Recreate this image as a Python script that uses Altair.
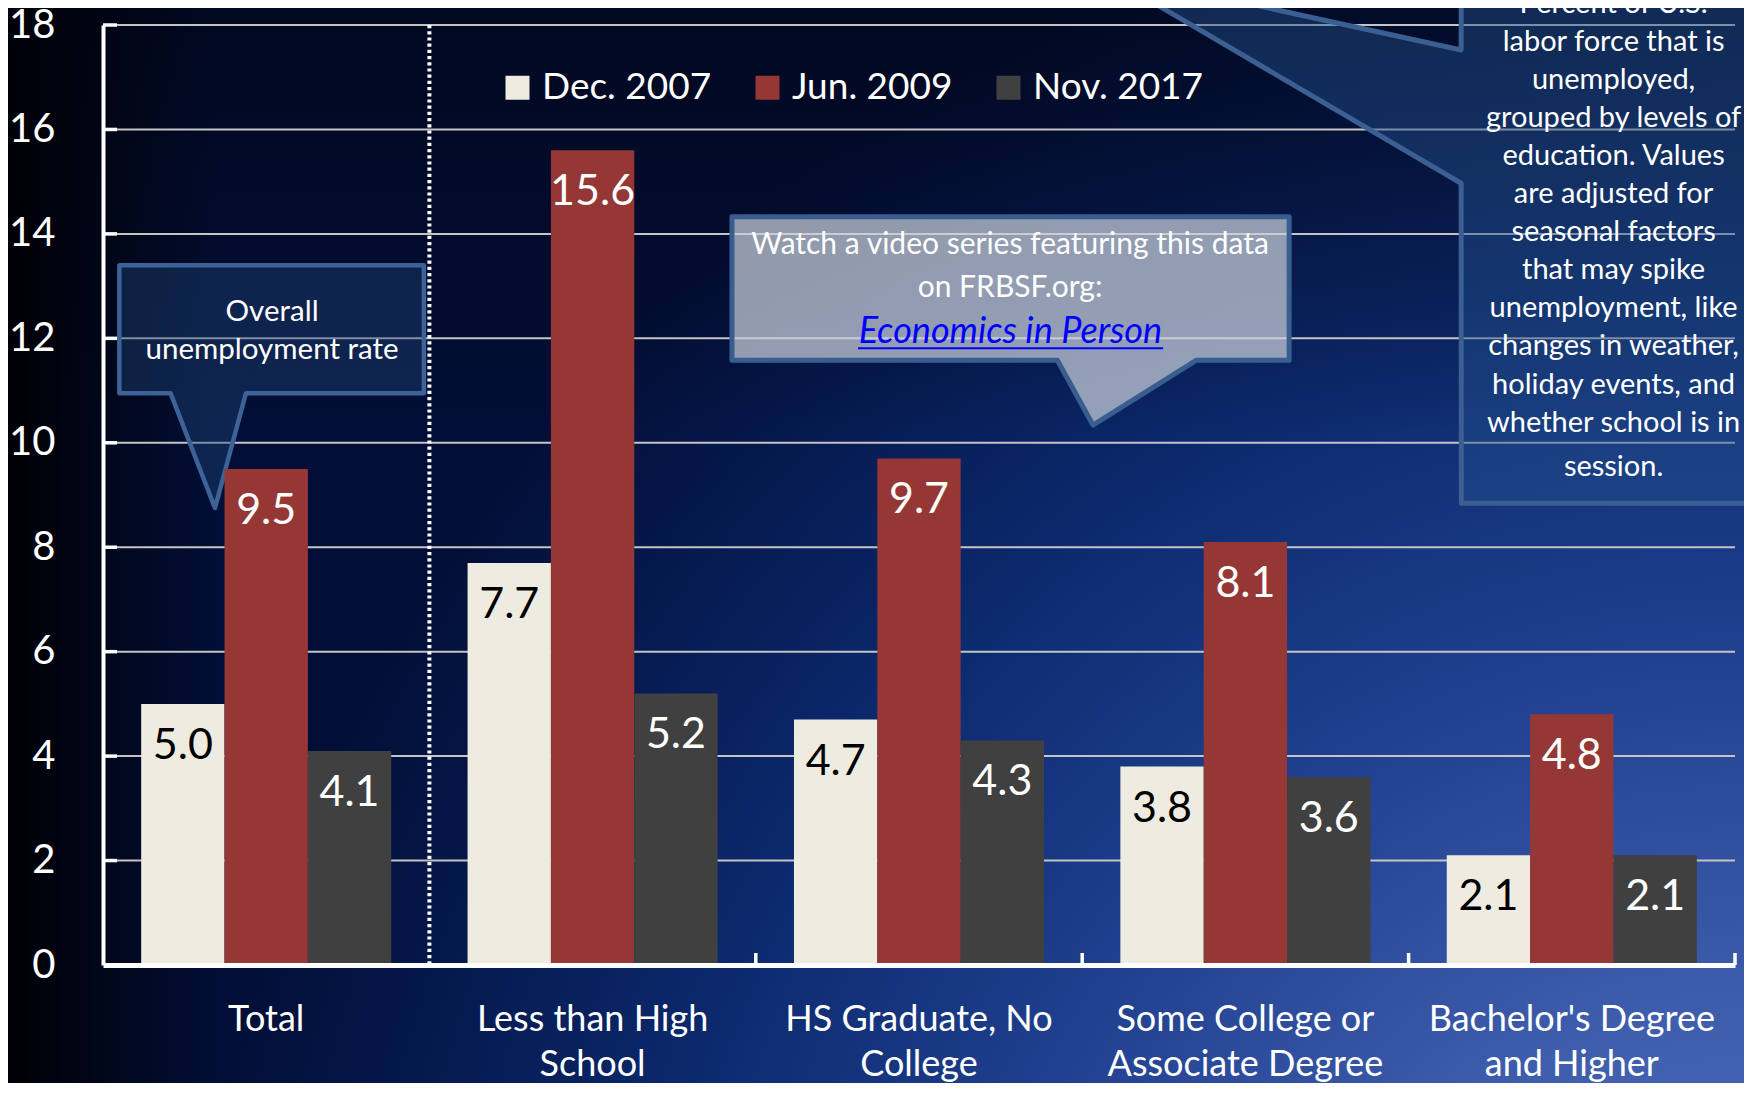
import altair as alt
import pandas as pd

# ---------------- data ----------------
categories = ["Total", "Less than High\nSchool", "HS Graduate, No\nCollege",
              "Some College or\nAssociate Degree", "Bachelor's Degree\nand Higher"]
series = ["Dec. 2007", "Jun. 2009", "Nov. 2017"]
dec_2007 = [5.0, 7.7, 4.7, 3.8, 2.1]
jun_2009 = [9.5, 15.6, 9.7, 8.1, 4.8]
nov_2017 = [4.1, 5.2, 4.3, 3.6, 2.1]
series_colors = ["#EEECE1", "#953735", "#404040"]
y_ticks = [0, 2, 4, 6, 8, 10, 12, 14, 16, 18]

overall_text = ["Overall", "unemployment rate"]
video_text = ["Watch a video series featuring this data", "on FRBSF.org:"]
link_text = "Economics in Person"
note_text = ["Percent of U.S.", "labor force that is", "unemployed,",
             "grouped by levels of", "education. Values", "are adjusted for",
             "seasonal factors", "that may spike", "unemployment, like",
             "changes in weather,", "holiday events, and", "whether school is in"]
note_last = "session."

# ---------------- layout ----------------
W, H = 1632, 940
PAD = {"left": 95, "top": 17, "right": 9, "bottom": 118}
FONT = "Lato"

rows = []
for s, vals in zip(series, [dec_2007, jun_2009, nov_2017]):
    for c, v in zip(categories, vals):
        rows.append({"cat": c, "series": s, "value": v})
df = pd.DataFrame(rows)

x_band = alt.Scale(domain=categories, paddingInner=0, paddingOuter=0)
xo_scale = alt.Scale(domain=series, paddingInner=0, paddingOuter=0.458)
y_scale = alt.Scale(domain=[0, 18], nice=False, zero=True)
xq_scale = alt.Scale(domain=[0, 5], nice=False, zero=False)

# one shared y axis definition, used by every layer that has a y field
y_axis = alt.Axis(title=None, orient="left", values=y_ticks, labelFont=FONT, labelFontSize=40,
                  labelColor="white", labelPadding=48, ticks=False,
                  domainColor="white", domainWidth=4, grid=False, zindex=1)

one = pd.DataFrame({"a": [0]})

# ---------------- background ----------------
bg_grad = {
    "gradient": "radial", "x1": 1, "y1": 1, "r1": 0, "x2": 1, "y2": 1, "r2": 0.9,
    "stops": [
        {"offset": 0.0, "color": "#5575c2"},
        {"offset": 0.25, "color": "#3f5fae"},
        {"offset": 0.5, "color": "#1f3f8e"},
        {"offset": 0.7, "color": "#0c2a6e"},
        {"offset": 0.85, "color": "#061b52"},
        {"offset": 1.0, "color": "#020e36"},
    ],
}
dark_grad = {
    "gradient": "linear", "x1": 0, "y1": 0, "x2": 1, "y2": 0,
    "stops": [
        {"offset": 0.0, "color": "rgba(0,0,4,1)"},
        {"offset": 0.05, "color": "rgba(0,0,4,0.6)"},
        {"offset": 0.12, "color": "rgba(0,0,4,0)"},
    ],
}
top_grad = {
    "gradient": "linear", "x1": 0, "y1": 0, "x2": 0, "y2": 1,
    "stops": [
        {"offset": 0.0, "color": "rgba(0,2,12,0.5)"},
        {"offset": 0.4, "color": "rgba(0,2,12,0)"},
    ],
}
bg_enc = dict(x=alt.value(-PAD["left"]), x2=alt.value(W + PAD["right"]),
              y=alt.value(-PAD["top"]), y2=alt.value(H + PAD["bottom"]))
bg = alt.Chart(one).mark_rect(fill=bg_grad).encode(**bg_enc)
dark = alt.Chart(one).mark_rect(fill=dark_grad).encode(**bg_enc)
topdark = alt.Chart(one).mark_rect(fill=top_grad).encode(**bg_enc)

grid = alt.Chart(pd.DataFrame({"v": y_ticks[1:]})).mark_rule(
    color="#c4c4c4", strokeWidth=2).encode(
    y=alt.Y("v:Q", scale=y_scale, axis=y_axis), x=alt.value(0), x2=alt.value(W))


def callout(pts, fill, fop, stroke, sw):
    d = pd.DataFrame(pts, columns=["x", "top", "bot"])
    return alt.Chart(d).mark_area(
        orient="vertical", interpolate="linear", fill=fill, fillOpacity=fop,
        stroke=stroke, strokeWidth=sw, strokeJoin="round").encode(
        x=alt.X("x:Q", scale=xq_scale, axis=None),
        y=alt.Y("top:Q", scale=y_scale, axis=y_axis),
        y2="bot:Q")


call_overall = callout([(0.05, 13.40, 10.95), (0.207, 13.40, 10.95), (0.343, 13.40, 8.75),
                        (0.438, 13.40, 10.95), (0.983, 13.40, 10.95)],
                       "#1e4678", 0.42, "#3c6297", 4.5)
call_video = callout([(1.927, 14.33, 11.58), (2.924, 14.33, 11.58), (3.033, 14.33, 10.34),
                      (3.349, 14.33, 11.58), (3.634, 14.33, 11.58)],
                     "#cbd1dc", 0.72, "#3a5d8f", 5)
call_note = callout([(3.054, 19.03, 19.03), (4.161, 17.52, 14.97), (4.1615, 21.5, 8.84),
                     (5.5, 21.5, 8.84)],
                    "#24508c", 0.45, "#3b5f93", 5)


def txt(x, y, text, size, color="white", lh=None, italic=False):
    props = dict(font=FONT, fontSize=size, color=color, align="center", baseline="middle")
    if lh:
        props["lineHeight"] = lh
    if italic:
        props["fontStyle"] = "italic"
    return alt.Chart(pd.DataFrame({"x": [x], "y": [y]})).mark_text(text=text, **props).encode(
        x=alt.X("x:Q", scale=xq_scale, axis=None),
        y=alt.Y("y:Q", scale=y_scale, axis=y_axis))


# multi-line text: y gives the first line
t_overall = txt(0.518, 12.50, overall_text, 29.5, lh=38)
t_video = txt(2.779, 13.78, video_text, 30, lh=43)
t_link = txt(2.780, 12.12, link_text, 36, color="#0000ff", italic=True)
underline = alt.Chart(pd.DataFrame({"x": [2.313], "x2": [3.248], "y": [11.81]})).mark_rule(
    color="#0000ff", strokeWidth=2).encode(
    x=alt.X("x:Q", scale=xq_scale, axis=None), x2="x2:Q",
    y=alt.Y("y:Q", scale=y_scale, axis=y_axis))
t_note = txt(4.628, 18.41, note_text, 29, lh=38.1)
t_note_last = txt(4.628, 9.53, note_last, 29)

# ---------------- bars ----------------
x_axis = alt.Axis(title=None, orient="bottom", labelExpr="split(datum.label, '\\n')",
                  labelFont=FONT, labelFontSize=36, labelColor="white", labelLineHeight=45,
                  labelPadding=37, ticks=False, domainColor="white",
                  domainWidth=5, labelAngle=0, labelLimit=500, zindex=1, grid=False)

legend = alt.Legend(title=None, orient="none", legendX=396, legendY=44,
                    direction="horizontal", symbolType="square", symbolSize=576,
                    symbolStrokeWidth=0, symbolOpacity=1, labelFont=FONT,
                    labelFontSize=37, labelColor="white", labelOffset=6,
                    columnPadding=37, padding=0, labelLimit=400)

xoenc = alt.XOffset("series:N", scale=xo_scale, sort=series)

bars = alt.Chart(df).mark_bar().encode(
    x=alt.X("cat:N", scale=x_band, sort=categories, axis=x_axis),
    xOffset=xoenc,
    y=alt.Y("value:Q", scale=y_scale, axis=y_axis),
    color=alt.Color("series:N", scale=alt.Scale(domain=series, range=series_colors),
                    sort=series, legend=legend))

labels = alt.Chart(df).mark_text(font=FONT, fontSize=43, baseline="middle", dy=42).encode(
    x=alt.X("cat:N", scale=x_band, sort=categories, axis=None),
    xOffset=xoenc,
    y=alt.Y("value:Q", scale=y_scale, axis=y_axis),
    text=alt.Text("value:Q", format=".1f"),
    color=alt.condition(alt.datum.series == series[0], alt.value("black"), alt.value("white")))

dotted = alt.Chart(pd.DataFrame({"cat": [categories[1]]})).mark_rule(
    color="white", strokeWidth=4, strokeDash=[3.2, 3]).encode(
    x=alt.X("cat:N", scale=x_band, sort=categories, bandPosition=0, axis=None),
    y=alt.value(0), y2=alt.value(H))

xticks = alt.Chart(pd.DataFrame({"cat": categories[2:]})).mark_rule(
    color="white", strokeWidth=3.5).encode(
    x=alt.X("cat:N", scale=x_band, sort=categories, bandPosition=0, axis=None),
    y=alt.value(H), y2=alt.value(H - 12))
xtick_end = alt.Chart(pd.DataFrame({"cat": categories[-1:]})).mark_rule(
    color="white", strokeWidth=3.5).encode(
    x=alt.X("cat:N", scale=x_band, sort=categories, bandPosition=1, axis=None),
    y=alt.value(H), y2=alt.value(H - 12))

yticks = alt.Chart(pd.DataFrame({"v": y_ticks[1:]})).mark_rule(
    color="white", strokeWidth=3.5).encode(
    y=alt.Y("v:Q", scale=y_scale, axis=y_axis), x=alt.value(0), x2=alt.value(14))

chart = alt.layer(
    bg, dark, topdark, grid, call_overall, call_video, call_note,
    t_overall, t_video, t_link, underline, t_note, t_note_last,
    bars, labels, dotted, xticks, xtick_end, yticks,
).resolve_scale(x="independent").properties(
    width=W, height=H, padding=PAD,
    autosize=alt.AutoSizeParams(type="none"),
    background="#020d33",
).configure_view(stroke=None)

chart.save("out.html", embed_options={"renderer": "svg", "actions": False})
